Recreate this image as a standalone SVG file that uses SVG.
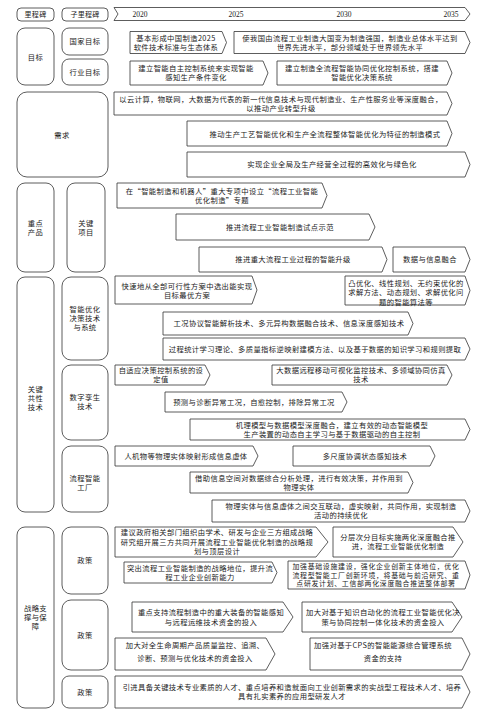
<svg xmlns="http://www.w3.org/2000/svg" width="496" height="718" viewBox="0 0 496 718">
<style>
.b{fill:#fff;stroke:#333;stroke-width:0.8}
.a{fill:#fff;stroke:#333;stroke-width:0.8;stroke-linejoin:miter}
text{font-family:"Noto Sans CJK SC","Noto Sans",sans-serif;font-size:7.3px;letter-spacing:0.4px;fill:#1a1a1a;text-anchor:middle}
.y{font-family:"Liberation Serif",serif;font-size:7.5px;letter-spacing:0}
.s{font-size:7px;letter-spacing:0.3px}
.t{font-size:6.9px;letter-spacing:0.7px}
</style>
<rect width="496" height="718" fill="#fff"/>
<g id="header">
<g id="milestone"><rect class="b" x="17" y="8" width="37" height="13" rx="4"/><text class="s" x="35.5" y="17.1">里程碑</text></g>
<g id="submilestone"><rect class="b" x="62" y="8" width="46" height="13" rx="4"/><text class="s" x="85" y="17.1">子里程碑</text></g>
<g id="timeline"><path class="a" d="M114,7.5 H465 L470,14 L465,20.5 H114 L118,14 Z"/>
<text class="y" x="140" y="17">2020</text><text class="y" x="236" y="17">2025</text><text class="y" x="344" y="17">2030</text><text class="y" x="451" y="17">2035</text></g>
</g>
<g id="connectors"></g>
<g id="goal"><rect class="b" x="17" y="28" width="37" height="57" rx="8"/><text x="35.5" y="59.6">目标</text></g>
<g id="national-goal"><rect class="b" x="62" y="28" width="46" height="27" rx="7"/><text x="85" y="44.1">国家目标</text></g>
<g id="industry-goal"><rect class="b" x="62" y="59" width="46" height="26" rx="7"/><text x="85" y="74.6">行业目标</text></g>
<g id="ng1"><path class="a" d="M130,31.5 H222 L226.5,42.5 L222,53.5 H130 Z"/><text x="176" y="40.5">基本形成中国制造2025</text><text x="176" y="49.7">软件技术标准与生态体系</text></g>
<g id="ng2"><path class="a" d="M234,31.5 H465 L470,42.5 L465,53.5 H234 Z"/><text x="350" y="40.5">使我国由流程工业制造大国变为制造强国，制造业总体水平达到</text><text x="350" y="49.7">世界先进水平，部分领域处于世界领先水平</text></g>
<g id="ig1"><path class="a" d="M130,61 H263 L268,73 L263,85 H130 Z"/><text x="196" y="71">建立智能自主控制系统来实现智能</text><text x="196" y="80.2">感知生产条件变化</text></g>
<g id="ig2"><path class="a" d="M277,61 H447 L452,73 L447,85 H277 Z"/><text x="362" y="71">建立制造全流程智能协同优化控制系统，搭建</text><text x="362" y="80.2">智能优化决策系统</text></g>
<g id="demand"><rect class="b" x="17" y="92" width="91" height="85" rx="10"/><text x="62" y="137.6">需求</text></g>
<g id="d1"><path class="a" d="M114,92 H447 L452,103.5 L447,115 H114 Z"/><text x="281" y="101.5">以云计算，物联网，大数据为代表的新一代信息技术与现代制造业、生产性服务业等深度融合，</text><text x="281" y="110.7">以推动产业转型升级</text></g>
<g id="d2"><path class="a" d="M187,121 H447 L452,133.5 L447,146 H187 Z"/><text x="325" y="137">推动生产工艺智能优化和生产全流程整体智能优化为特征的制造模式</text></g>
<g id="d3"><path class="a" d="M187,152 H465 L470,164.5 L465,177 H187 Z"/><text x="332" y="167.4">实现企业全局及生产经营全过程的高效化与绿色化</text></g>
<g id="key-product"><rect class="b" x="17" y="183" width="37" height="89" rx="8"/><text x="35.5" y="225.5">重点</text><text x="35.5" y="234.7">产品</text></g>
<g id="key-project"><rect class="b" x="67" y="183" width="38" height="89" rx="8"/><text x="86" y="225.5">关键</text><text x="86" y="234.7">项目</text></g>
<g id="kp1"><path class="a" d="M117,183 H322 L327,195.5 L322,208 H117 Z"/><text x="222" y="193.5">在“智能制造和机器人”重大专项中设立“流程工业智能</text><text x="222" y="202.7">优化制造”专题</text></g>
<g id="kp2"><path class="a" d="M176,214 H369 L375,227 L369,240 H176 Z"/><text x="280" y="229.8">推进流程工业智能制造试点示范</text></g>
<g id="kp3"><path class="a" d="M199,247 H382 L387,259.5 L382,272 H199 Z"/><text x="293" y="262.4">推进重大流程工业过程的智能升级</text></g>
<g id="kp4"><path class="a" d="M393,247 H465 L470,259.5 L465,272 H393 Z"/><text x="430" y="262.4">数据与信息融合</text></g>
<g id="key-tech"><rect class="b" x="17" y="277" width="37" height="235" rx="8"/><text x="35.5" y="391.6">关键</text><text x="35.5" y="400.8">共性</text><text x="35.5" y="410">技术</text></g>
<g id="intelligent-opt"><rect class="b" x="62" y="277" width="46" height="83" rx="9"/><text x="85" y="311.9">智能优化</text><text x="85" y="321.1">决策技术</text><text x="85" y="330.3">与系统</text></g>
<g id="io1"><path class="a" d="M115,276 H252 L257,290 L252,304 H115 Z"/><text x="187" y="288.8">快速地从全部可行性方案中选出能实现</text><text x="187" y="298.3">目标最优方案</text></g>
<g id="io2"><path class="a" d="M345,276 H465 L470,290.5 L465,305 H345 Z"/><text x="406" y="285.6">凸优化、线性规划、无约束优化的</text><text x="406" y="295.1">求解方法、动态规划、求解优化问</text><text x="406" y="304.6">题的智能算法等</text></g>
<g id="io3"><path class="a" d="M163,312 H408 L413,323.5 L408,335 H163 Z"/><text x="289" y="326.1">工况协议智能解析技术、多元异构数据融合技术、信息深度感知技术</text></g>
<g id="io4"><path class="a" d="M163,338 H465 L470,349 L465,360 H163 Z"/><text x="315" y="351.6">过程统计学习理论、多质量指标逆映射建模方法、以及基于数据的知识学习和规则提取</text></g>
<g id="digital-twin"><rect class="b" x="62" y="365" width="46" height="75" rx="9"/><text x="85" y="400.1">数字孪生</text><text x="85" y="409.3">技术</text></g>
<g id="dt1"><path class="a" d="M115,365 H205 L210,375 L205,385 H115 Z"/><text x="161" y="373">自适应决策控制系统的设</text><text x="161" y="382.2">定值</text></g>
<g id="dt2"><path class="a" d="M272,365 H447 L452,375 L447,385 H272 Z"/><text x="361" y="373">大数据远程移动可视化监控技术、多领域协同仿真</text><text x="361" y="382.2">技术</text></g>
<g id="dt3"><path class="a" d="M165,392 H342 L347,402 L342,412 H165 Z"/><text x="254" y="404.6">预测与诊断异常工况，自愈控制，排除异常工况</text></g>
<g id="dt4"><path class="a" d="M190,419 H465 L470,429.5 L465,440 H190 Z"/><text x="332" y="427.5">机理模型与数据模型深度融合，建立有效的动态智能模型</text><text x="332" y="436.7">生产装置的动态自主学习与基于数据驱动的自主控制</text></g>
<g id="smart-factory"><rect class="b" x="62" y="446" width="46" height="66" rx="9"/><text x="85" y="480.6">流程智能</text><text x="85" y="489.8">工厂</text></g>
<g id="sf1"><path class="a" d="M115,446 H253 L258,456 L253,466 H115 Z"/><text x="186" y="458.6">人机物等物理实体映射形成信息虚体</text></g>
<g id="sf2"><path class="a" d="M293,446 H430 L435,456 L430,466 H293 Z"/><text x="365" y="458.6">多尺度协调状态感知技术</text></g>
<g id="sf3"><path class="a" d="M190,472 H408 L413,482.5 L408,493 H190 Z"/><text x="299" y="480.5">借助信息空间对数据综合分析处理，进行有效决策，并作用到</text><text x="299" y="489.7">物理实体</text></g>
<g id="sf4"><path class="a" d="M212,500 H465 L470,511 L465,522 H212 Z"/><text x="341" y="509">物理实体与信息虚体之间交互联动，虚实映射，共同作用，实现制造</text><text x="341" y="518.2">活动的持续优化</text></g>
<g id="strategy"><rect class="b" x="17" y="527" width="37" height="181" rx="8"/><text x="35.5" y="610.6">战略支</text><text x="35.5" y="619.8">撑与保</text><text x="35.5" y="629">障</text></g>
<g id="policy1"><rect class="b" x="62" y="527" width="46" height="67" rx="9"/><text x="85" y="563.1">政策</text></g>
<g id="p1a"><path class="a" d="M115,527 H316 L328,542 L316,557 H115 Z"/><text x="217" y="535.4">建议政府相关部门组织由学术、研发与企业三方组成战略</text><text x="217" y="544.6">研究组开展三方共同开展流程工业智能优化制造的战略规</text><text x="217" y="553.8">划与顶层设计</text></g>
<g id="p1b"><path class="a" d="M333,527 H453 L463,542 L453,557 H333 Z"/><text x="398" y="540">分层次分目标实施两化深度融合推</text><text x="398" y="549.2">进，流程工业智能优化制造</text></g>
<g id="p1c"><path class="a" d="M124,562 H272 L277,572.5 L272,583 H124 Z"/><text x="200" y="570.5">突出流程工业智能制造的战略地位，提升流</text><text x="200" y="579.7">程工业企业创新能力</text></g>
<g id="p1d"><path class="a" d="M288,561 H465 L470,575 L465,589 H288 Z"/><text class="t" x="376" y="569">加强基础设施建设，强化企业创新主体地位，优化</text><text class="t" x="376" y="577.5">流程型智能工厂创新环境，将基础与前沿研究、重</text><text class="t" x="376" y="586">点研发计划、工信部两化深度融合推进整体部署</text></g>
<g id="policy2"><rect class="b" x="62" y="600" width="46" height="70" rx="9"/><text x="85" y="637.6">政策</text></g>
<g id="p2a"><path class="a" d="M132,602 H283 L293,617 L283,632 H132 Z"/><text x="211" y="614.6">重点支持流程制造中的重大装备的智能感知</text><text x="211" y="624.6">与远程运维技术资金的投入</text></g>
<g id="p2b"><path class="a" d="M302,602 H452 L462,617 L452,632 H302 Z"/><text x="383" y="614.6">加大对基于知识自动化的流程工业智能优化决</text><text x="383" y="624.6">策与协同控制一体化技术的资金投入</text></g>
<g id="p2c"><path class="a" d="M115,638 H266 L275,654 L266,670 H115 Z"/><text x="195" y="648">加大对全生命周期产品质量监控、追溯、</text><text x="195" y="661">诊断、预测与优化技术的资金投入</text></g>
<g id="p2d"><path class="a" d="M310,638 H462 L470,654 L462,670 H310 Z"/><text x="383" y="648">加强对基于CPS的智能能源综合管理系统</text><text x="383" y="661">资金的支持</text></g>
<g id="policy3"><rect class="b" x="62" y="676" width="46" height="32" rx="7"/><text x="85" y="694.6">政策</text></g>
<g id="p3a"><path class="a" d="M115,676 H462 L470,692 L462,708 H115 Z"/><text x="292" y="690">引进具备关键技术专业素质的人才、重点培养和造就面向工业创新需求的实战型工程技术人才、培养</text><text x="292" y="699.2">具有扎实素养的应用型研发人才</text></g>
</svg>
